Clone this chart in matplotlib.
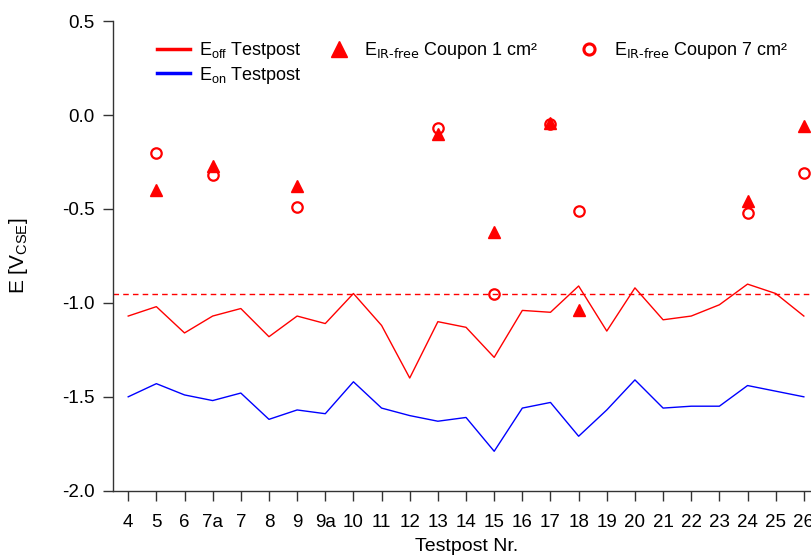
import numpy as np
import matplotlib
matplotlib.use("Agg")
import matplotlib.pyplot as plt
from matplotlib.lines import Line2D

plt.rcParams['font.family'] = ['Liberation Sans', 'DejaVu Sans']
plt.rcParams['mathtext.default'] = 'regular'

testposts = ["4", "5", "6", "7a", "7", "8", "9", "9a", "10", "11", "12", "13", "14",
             "15", "16", "17", "18", "19", "20", "21", "22", "23", "24", "25", "26"]

e_off = [-1.07, -1.02, -1.16, -1.07, -1.03, -1.18, -1.07, -1.11, -0.95, -1.12, -1.40, -1.10, -1.13,
         -1.29, -1.04, -1.05, -0.91, -1.15, -0.92, -1.09, -1.07, -1.01, -0.90, -0.95, -1.07]
e_on = [-1.50, -1.43, -1.49, -1.52, -1.48, -1.62, -1.57, -1.59, -1.42, -1.56, -1.60, -1.63, -1.61,
        -1.79, -1.56, -1.53, -1.71, -1.57, -1.41, -1.56, -1.55, -1.55, -1.44, -1.47, -1.50]

nan = np.nan
coupon1 = [nan, -0.40, nan, -0.27, nan, nan, -0.38, nan, nan, nan, nan, -0.10, nan,
           -0.62, nan, -0.04, -1.04, nan, nan, nan, nan, nan, -0.46, nan, -0.06]
coupon7 = [nan, -0.20, nan, -0.32, nan, nan, -0.49, nan, nan, nan, nan, -0.07, nan,
           -0.95, nan, -0.05, -0.51, nan, nan, nan, nan, nan, -0.52, nan, -0.31]

limit = -0.95

x = np.arange(len(testposts))

fig = plt.figure(figsize=(8.11, 5.57), dpi=100)
ax = fig.add_axes([0.139, 0.119, 0.873, 0.843])

ax.plot(x, e_off, color='red', lw=1)
ax.plot(x, e_on, color='blue', lw=1)
ax.axhline(limit, color='red', lw=1, ls=(0, (4, 3)))
ax.plot(x, coupon1, ls='none', marker='^', color='red', ms=8)
ax.plot(x, coupon7, ls='none', marker='o', mfc='none', mec='red', mew=1.6, ms=7.5)

ax.set_xlim(-0.55, 24.6)
ax.set_ylim(-2.0, 0.5)
ax.set_yticks(np.arange(-2.0, 0.51, 0.5))
ax.set_yticklabels([f"{v:.1f}" for v in np.arange(-2.0, 0.51, 0.5)])
ax.set_xticks(x)
ax.set_xticklabels(testposts)
ax.tick_params(direction='out', length=7, width=1, labelsize=13.5, color='#333333')
ax.tick_params(axis='y', pad=6)
ax.tick_params(axis='x', pad=10)
for s in ['top', 'right']:
    ax.spines[s].set_visible(False)
for s in ['left', 'bottom']:
    ax.spines[s].set_color('#333333')
    ax.spines[s].set_linewidth(1)

ax.set_xlabel("Testpost Nr.", fontsize=14, labelpad=5)
ax.set_ylabel("E [V$_{CSE}$]", fontsize=15)
ax.yaxis.set_label_coords(-0.117, 0.5)

leg_kw = dict(loc='upper left', frameon=False, fontsize=13, borderpad=0, borderaxespad=0,
              handlelength=1.83, handletextpad=0.5, labelspacing=0.2,
              bbox_transform=fig.transFigure)

h1 = [Line2D([], [], color='red', lw=2.5), Line2D([], [], color='blue', lw=2.5)]
l1 = ax.legend(h1, ["E$_{off}$ Testpost", "E$_{on}$ Testpost"],
               bbox_to_anchor=(157 / 811, 1 - 40 / 557), **leg_kw)
ax.add_artist(l1)

h2 = [Line2D([], [], ls='none', marker='^', color='red', ms=11)]
l2 = ax.legend(h2, [r"E$_{\text{IR-free}}$ Coupon 1 cm²"],
               bbox_to_anchor=(322 / 811, 1 - 40 / 557), **leg_kw)
ax.add_artist(l2)

h3 = [Line2D([], [], ls='none', marker='o', mfc='none', mec='red', mew=2.2, ms=8)]
ax.legend(h3, [r"E$_{\text{IR-free}}$ Coupon 7 cm²"],
          bbox_to_anchor=(572 / 811, 1 - 40 / 557), **leg_kw)

fig.savefig("out.png", dpi=100)
